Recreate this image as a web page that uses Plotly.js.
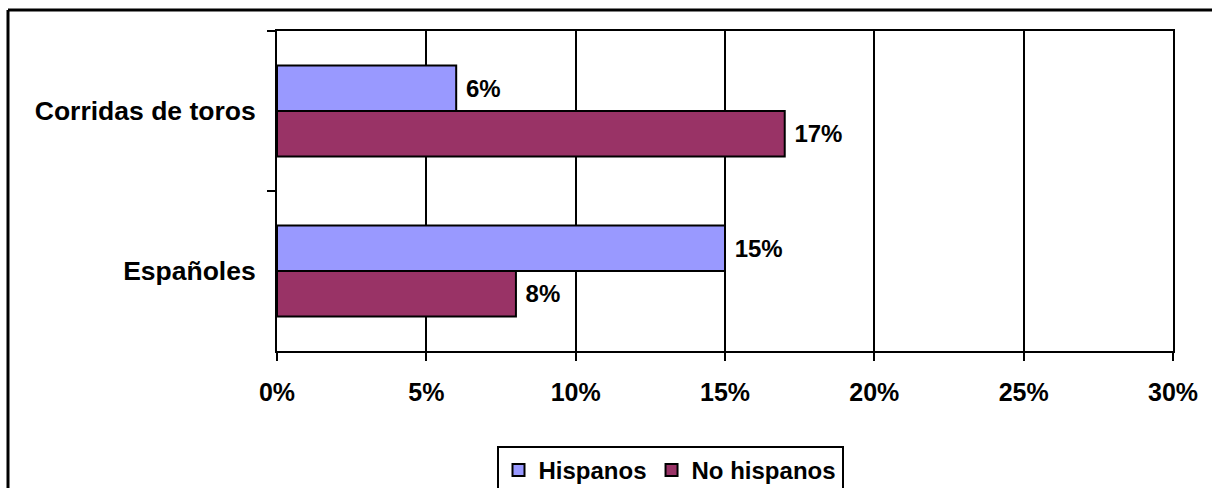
<!DOCTYPE html>
<html>
<head>
<meta charset="utf-8">
<script src="https://cdn.plot.ly/plotly-3.0.1.min.js"></script>
<style>
html,body{margin:0;padding:0;background:#fff;}
#chart{width:1212px;height:488px;}
</style>
</head>
<body>
<div id="chart"></div>
<script>
const categories = ['Corridas de toros', 'Españoles'];
const hispanos = [6, 15];
const noHispanos = [17, 8];
const seriesNames = ['Hispanos', 'No hispanos'];
const xTicks = [0, 5, 10, 15, 20, 25, 30];
const xTickLabels = ['0%', '5%', '10%', '15%', '20%', '25%', '30%'];

const FONT = 'Liberation Sans, Arial, sans-serif';

const traces = [
  {
    type: 'bar', orientation: 'h', name: seriesNames[0],
    y: categories, x: hispanos,
    marker: {color: '#9999FF', line: {color: '#000', width: 2}},
    text: hispanos.map(v => '\u00A0' + v + '%'), textposition: 'outside',
    textfont: {family: FONT, size: 24, color: '#000', weight: 'bold'},
    cliponaxis: false, hoverinfo: 'none'
  },
  {
    type: 'bar', orientation: 'h', name: seriesNames[1],
    y: categories, x: noHispanos,
    marker: {color: '#993366', line: {color: '#000', width: 2}},
    text: noHispanos.map(v => '\u00A0' + v + '%'), textposition: 'outside',
    textfont: {family: FONT, size: 24, color: '#000', weight: 'bold'},
    cliponaxis: false, hoverinfo: 'none'
  }
];

const L = 277, R = 1173, T = 31, B = 351;
const W = R - L, H = B - T;
const px2x = p => (p - L) / W;
const px2y = p => (B - p) / H;

const layout = {
  width: 1212, height: 488,
  margin: {l: L, r: 1212 - R, t: T, b: 488 - B, pad: 0, autoexpand: false},
  paper_bgcolor: '#fff', plot_bgcolor: '#fff',
  font: {family: FONT, size: 24, color: '#000', weight: 'bold'},
  barmode: 'group', bargap: 0.43, bargroupgap: 0,
  showlegend: true,
  legend: {
    orientation: 'h', x: px2x(670), xanchor: 'center', y: px2y(446), yanchor: 'top',
    bordercolor: '#000', borderwidth: 2, bgcolor: '#fff',
    font: {family: FONT, size: 24, color: '#000', weight: 'bold'},
    itemwidth: 30, tracegroupgap: 0
  },
  xaxis: {
    range: [0, 30], tickvals: xTicks, ticktext: xTickLabels,
    showgrid: true, gridcolor: '#000', gridwidth: 2,
    showline: true, linecolor: '#000', linewidth: 2, mirror: true,
    ticks: 'outside', ticklen: 8, tickwidth: 2, tickcolor: '#000',
    ticklabelstandoff: 10,
    tickfont: {family: FONT, size: 25, color: '#000', weight: 'bold'},
    zeroline: false, fixedrange: true, automargin: false
  },
  yaxis: {
    type: 'category', categoryorder: 'array', categoryarray: categories,
    range: [1.5, -0.5],
    showgrid: false,
    showline: true, linecolor: '#000', linewidth: 2, mirror: true,
    ticks: 'outside', tickson: 'boundaries', ticklen: 8, tickwidth: 2, tickcolor: '#000',
    ticklabelstandoff: 14,
    tickfont: {family: FONT, size: 26.5, color: '#000', weight: 'bold'},
    zeroline: false, fixedrange: true, automargin: false
  },
  shapes: [
    {type: 'line', xref: 'paper', yref: 'paper', x0: px2x(8), x1: px2x(1230), y0: px2y(10), y1: px2y(10), line: {color: '#000', width: 3}},
    {type: 'line', xref: 'paper', yref: 'paper', x0: px2x(8), x1: px2x(8), y0: px2y(10), y1: px2y(510), line: {color: '#000', width: 3}}
  ]
};

Plotly.newPlot('chart', traces, layout, {displayModeBar: false, staticPlot: true});
</script>
</body>
</html>
